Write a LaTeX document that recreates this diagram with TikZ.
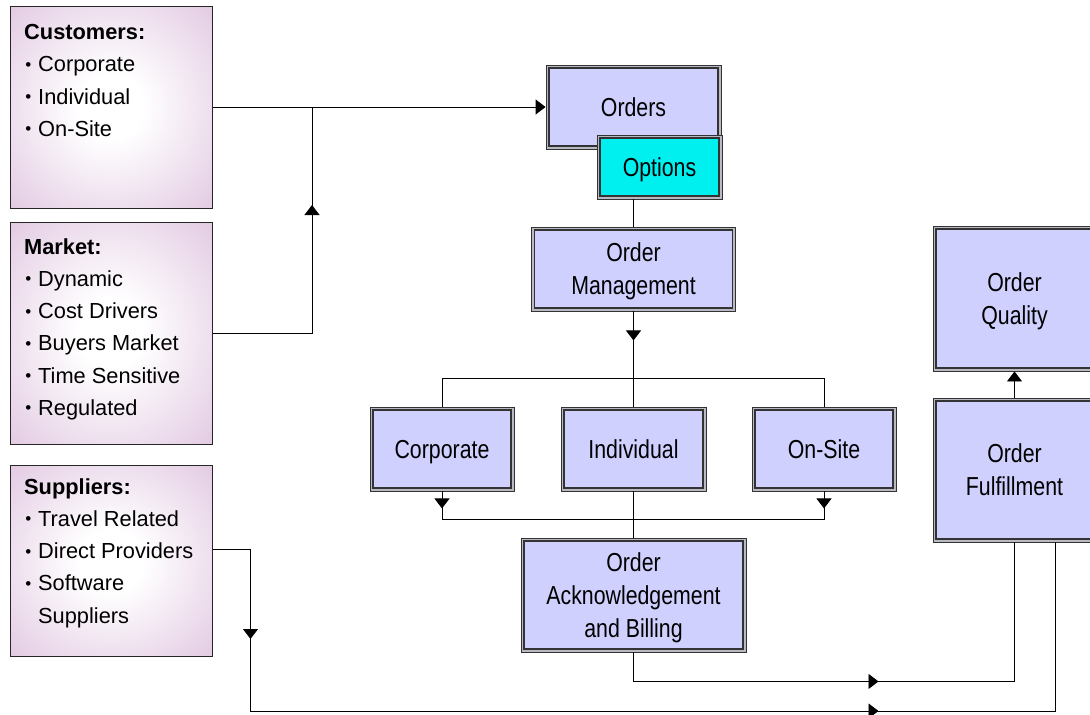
\documentclass[tikz,border=0pt]{standalone}
\usepackage{fontspec}
\setmainfont{Liberation Sans}
\newfontfamily\narrowfont[FakeStretch=0.82]{Liberation Sans}
\usetikzlibrary{arrows.meta,decorations.markings}
\definecolor{boxblue}{RGB}{208,208,255}
\definecolor{boxcyan}{RGB}{0,240,240}
\definecolor{lilac}{RGB}{222,194,222}
\definecolor{bandgray}{RGB}{185,185,195}
\pgfdeclareradialshading{lilacglow}{\pgfpoint{0bp}{0bp}}{color(0bp)=(white); color(8bp)=(white); color(40bp)=(lilac); color(70bp)=(lilac)}
\newcommand\bul{\makebox[14pt][l]{\hspace{1.2pt}\raisebox{1.6pt}{\fontsize{17}{17}\selectfont •}}}
\newcommand\cs{\rule[-5.5pt]{0pt}{29pt}}
\tikzset{
  >={Triangle[length=10pt,width=15pt]},
  lbox/.style={draw=black!85, line width=1pt, shading=lilacglow, inner sep=0pt},
  ltext/.style={anchor=north west, inner sep=0pt, align=left, font=\fontsize{21.8}{32.3}\selectfont},
  cbox/.style={draw=black!80, line width=0.9pt, fill=bandgray, inner sep=0pt,
    font=\narrowfont\fontsize{26}{33}\selectfont, align=center,
    path picture={\draw[line width=1.7pt, fill=#1]
      ([shift={(3pt,-3pt)}]path picture bounding box.north west) rectangle
      ([shift={(-3pt,3pt)}]path picture bounding box.south east);}},
  conn/.style={draw=black, line width=0.9pt},
  midtip/.style={postaction={decorate, decoration={markings, mark=at position #1 with {\arrow{>}}}}}
}
\begin{document}
\begin{tikzpicture}[x=1pt,y=-1pt]
\useasboundingbox[fill=white] (0,0) rectangle (1090,715);

% left boxes
\node[lbox, minimum width=202pt, minimum height=202pt] (cust) at (111,107) {};
\node[lbox, minimum width=202pt, minimum height=222pt] (market) at (111,333.5) {};
\node[lbox, minimum width=202pt, minimum height=191pt] (sup) at (111,560.5) {};
\node[ltext] (ct) at (24,24) {\textbf{Customers:}\\\bul Corporate\\\bul Individual\\\bul On-Site};
\node[ltext] (mt) at (24,238) {\textbf{Market:}\\\bul Dynamic\\\bul Cost Drivers\\\bul Buyers Market\\\bul Time Sensitive\\\bul Regulated};
\node[ltext] (st) at (24,478) {\textbf{Suppliers:}\\\bul Travel Related\\\bul Direct Providers\\\bul Software\\\hspace*{14pt}Suppliers};

% centre boxes
\node[cbox=boxblue, minimum width=175pt, minimum height=84pt] (orders) at (633.5,107) {\cs Orders};
\node[cbox=boxcyan, minimum width=125pt, minimum height=64pt] (options) at (659.5,167) {\cs Options};
\node[cbox=boxblue, minimum width=204pt, minimum height=84pt] (om) at (633.5,269) {\cs Order\\\cs Management};
\node[cbox=boxblue, minimum width=144pt, minimum height=84pt] (corp) at (442,449) {\cs Corporate};
\node[cbox=boxblue, minimum width=145pt, minimum height=84pt] (ind) at (633.5,449) {\cs Individual};
\node[cbox=boxblue, minimum width=144pt, minimum height=84pt] (onsite) at (824,449) {\cs On-Site};
\node[cbox=boxblue, minimum width=225pt, minimum height=114pt] (oa) at (633.5,595) {\cs Order\\\cs Acknowledgement\\\cs and Billing};
\node[cbox=boxblue, minimum width=163pt, minimum height=145pt] (oq) at (1014.5,298.5) {\cs Order\\\cs Quality};
\node[cbox=boxblue, minimum width=163pt, minimum height=144pt] (of) at (1014.5,470) {\cs Order\\\cs Fulfillment};

% connectors
\coordinate (j) at (312,107);
\draw[conn,->] (cust) -- (orders);
\draw[conn, midtip=228pt] (market.east) -| (j);
\draw[conn] (orders.south |- options.south) -- (om.north);
\draw[conn, midtip=29pt] (om) -- (ind);
\draw[conn] (corp.north) -- ++(0,-28) -| (onsite.north);
\coordinate (m2) at (633.5,519);
\draw[conn, midtip=17pt] (corp.south) |- (m2);
\draw[conn, midtip=17pt] (onsite.south) |- (m2);
\draw[conn] (ind) -- (oa);
\draw[conn, midtip=274pt] (oa.south) -- ++(0,29) -| (of.south);
\coordinate (s1) at ([yshift=11.5pt]sup.east);
\coordinate (ofb) at ([xshift=40.5pt]of.south);
\draw[conn, midtip=128pt, midtip=828pt] (s1) -- ++(38,0) -- ++(0,162) -| (ofb);
\draw[conn,->] (of) -- (oq);
\end{tikzpicture}
\end{document}
